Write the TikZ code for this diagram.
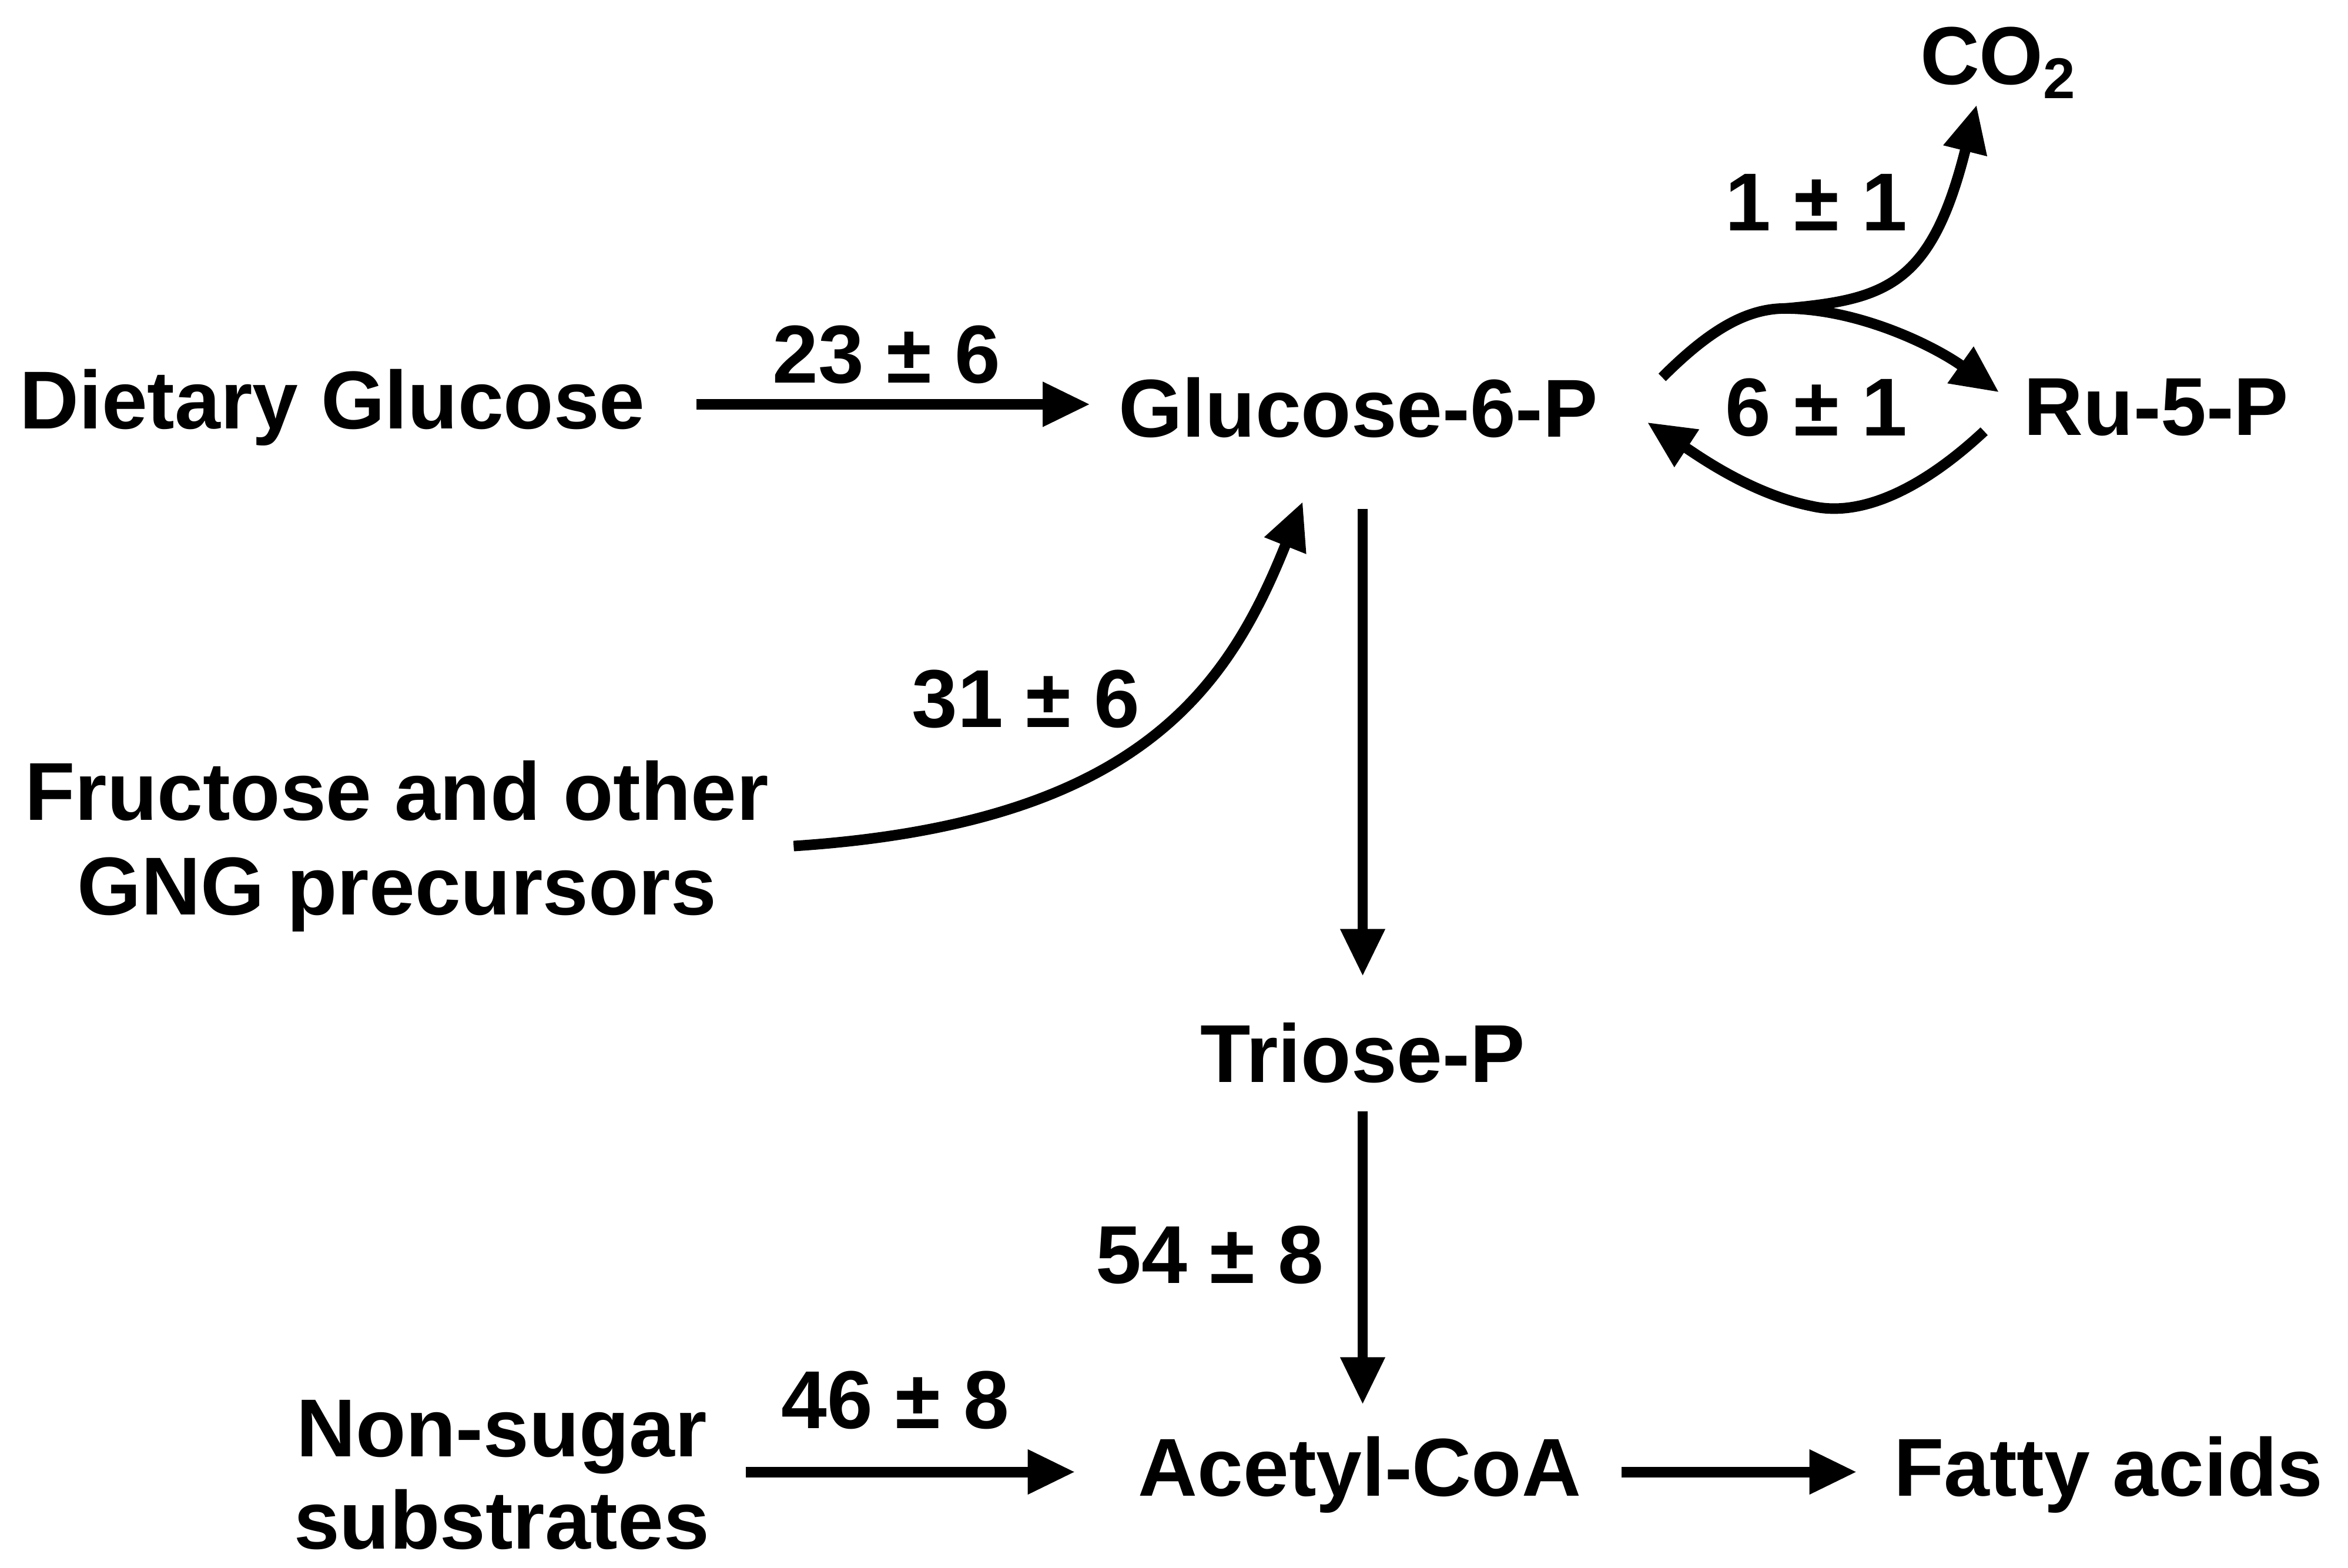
\documentclass[tikz,border=0pt]{standalone}
\usepackage{fontspec}
\setmainfont{Liberation Sans}
\usetikzlibrary{arrows.meta}
\begin{document}
\begin{tikzpicture}[x=0.01cm,y=-0.01cm,
  lbl/.style={font=\bfseries\fontsize{15.6}{18}\selectfont,align=center,inner sep=0pt},
  num/.style={font=\bfseries\fontsize{15.6}{18}\selectfont,inner sep=0pt},
  flow/.style={line width=2pt,-{Triangle[length=9pt,width=8pt]}},
  plain/.style={line width=2pt}]
\useasboundingbox (0,0) rectangle (1568,1047);
\node[lbl] (dg) at (222,272) {Dietary Glucose};
\node[lbl] (g6p) at (907,272) {Glucose-6-P};
\node[lbl] (ru) at (1440,272) {Ru-5-P};
\node[lbl] (co2) at (1335,42) {CO\textsubscript{2}};
\node[lbl,font=\bfseries\fontsize{15.6}{18}\selectfont] (fr) at (265,565) {Fructose and other\\GNG precursors};
\node[lbl] (tp) at (910,703) {Triose-P};
\node[lbl,font=\bfseries\fontsize{15.6}{17.5}\selectfont] (ns) at (335,985) {Non-sugar\\substrates};
\node[lbl] (ac) at (908,985) {Acetyl-CoA};
\node[lbl] (fa) at (1408,985) {Fatty acids};

\coordinate (a1) at (465,270); \coordinate (a2) at (728,270);
\draw[flow] (a1) -- (a2);
\node[num] (n1) at (592,237) {23 ± 6};

\coordinate (b1) at (530,565); \coordinate (b2) at (870,335);
\draw[flow] (b1) .. controls (760,550) and (820,460) .. (b2);
\node[num] (n2) at (685,467) {31 ± 6};

\coordinate (c1) at (910,340); \coordinate (c2) at (910,652);
\draw[flow] (c1) -- (c2);
\coordinate (d1) at (910,742); \coordinate (d2) at (910,938);
\draw[flow] (d1) -- (d2);
\node[num] (n3) at (808,838) {54 ± 8};

\coordinate (e1) at (498,983); \coordinate (e2) at (718,983);
\draw[flow] (e1) -- (e2);
\node[num] (n4) at (598,935) {46 ± 8};
\coordinate (f1) at (1083,983); \coordinate (f2) at (1240,983);
\draw[flow] (f1) -- (f2);

\coordinate (h1) at (1110,252); \coordinate (hm) at (1192,206);
\coordinate (h2) at (1335,262); \coordinate (h3) at (1320,70);
\draw[plain] (h1) .. controls (1140,222) and (1165,206) .. (hm);
\draw[flow] (hm) .. controls (1240,206) and (1290,230) .. (h2);
\draw[flow] (hm) .. controls (1260,200) and (1290,190) .. (h3);
\node[num] (n5) at (1213,135) {1 ± 1};

\coordinate (r1) at (1325,288); \coordinate (r2) at (1100,282);
\draw[flow] (r1) .. controls (1280,330) and (1240,345) .. (1210,338) .. controls (1170,330) and (1135,305) .. (r2);
\node[num] (n6) at (1213,272) {6 ± 1};
\end{tikzpicture}
\end{document}
